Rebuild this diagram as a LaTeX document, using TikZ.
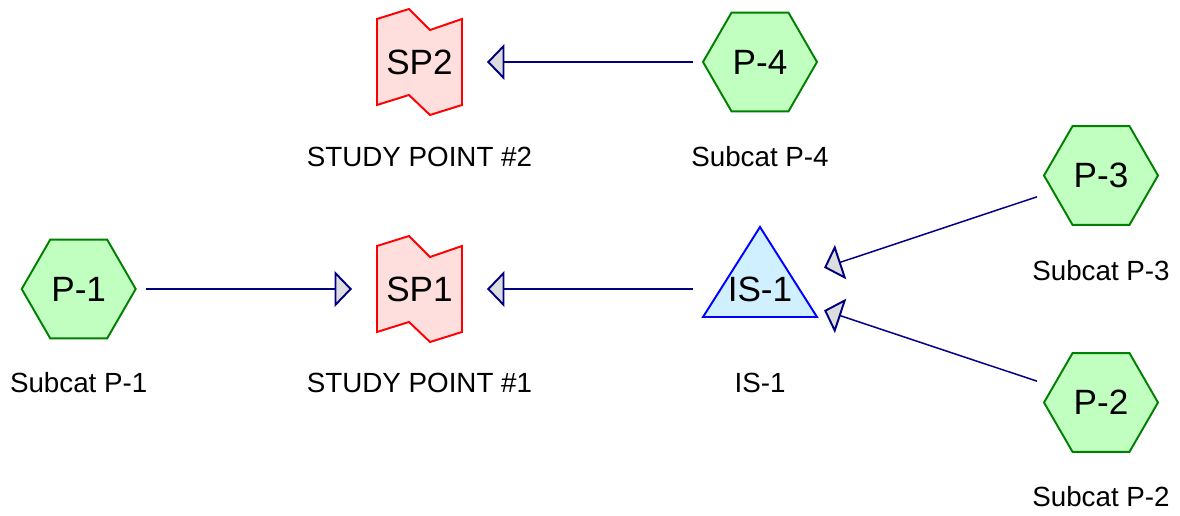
\documentclass[tikz,border=0pt]{standalone}
\usepackage{fontspec}
\setmainfont{Liberation Sans}
\usetikzlibrary{shapes.geometric,arrows.meta}
\definecolor{subfill}{RGB}{192,255,192}
\definecolor{subline}{RGB}{0,128,0}
\definecolor{spfill}{RGB}{255,222,222}
\definecolor{isfill}{RGB}{208,240,255}
\definecolor{linknavy}{RGB}{0,0,128}
\definecolor{tipfill}{RGB}{221,221,221}
\tikzset{
  subcat/.style={regular polygon,regular polygon sides=6,minimum size=2.28cm,inner sep=0pt,
    draw=subline,fill=subfill,line width=1.1pt,font=\fontsize{20}{24}\selectfont},
  spbox/.style={draw=red,fill=spfill,line width=1.1pt},
  isbox/.style={draw=blue,fill=isfill,line width=1.1pt},
  tag/.style={inner sep=0pt,font=\fontsize{20}{24}\selectfont},
  caption/.style={anchor=base,inner sep=0pt,font=\fontsize{15.8}{19}\selectfont},
  flow/.style={draw=linknavy,line width=.85pt,
    -{Triangle[length=.35cm,width=.72cm,line width=1.1pt,fill=tipfill]},
    shorten <=1.35cm,shorten >=1.35cm}
}
\begin{document}
\begin{tikzpicture}[x=.02cm,y=-.02cm]
    \useasboundingbox (0,0) rectangle (1180,516);
    % study points and junction
    \foreach \y in {62,289}
        \filldraw [spbox,shift={(419.5,\y)}] (-42.5,-43) -- (-10.5,-53) -- (10.5,-32) -- (42.5,-43) -- (42.5,43) -- (10.5,53) -- (-10.5,33) -- (-42.5,43) -- cycle;
    \filldraw [isbox,shift={(760,289)}] (0,-62) -- (57,28) -- (-57,28) -- cycle;
    \node [tag] (sp2) at (419.5,62) {SP2};
    \node [tag] (sp1) at (419.5,289) {SP1};
    \node [tag] (is1) at (760,289) {IS-1};
    % subcatchments
    \node [subcat] (p4) at (760,62) {P-4};
    \node [subcat] (p1) at (78.7,289) {P-1};
    \node [subcat] (p3) at (1101,175.5) {P-3};
    \node [subcat] (p2) at (1101,402.5) {P-2};
    % captions
    \node [caption] (sp2cap) at (419.5,167) {STUDY POINT \#2};
    \node [caption] (p4cap) at (760,167) {Subcat P-4};
    \node [caption] (p3cap) at (1101,281) {Subcat P-3};
    \node [caption] (p1cap) at (78.7,393) {Subcat P-1};
    \node [caption] (sp1cap) at (419.5,393) {STUDY POINT \#1};
    \node [caption] (is1cap) at (760,393) {IS-1};
    \node [caption] (p2cap) at (1101,507) {Subcat P-2};
    % links
    \draw [flow] (p4.center) -- (sp2.center);
    \draw [flow] (p1.center) -- (sp1.center);
    \draw [flow] (is1.center) -- (sp1.center);
    \draw [flow] (p3.center) -- (is1.center);
    \draw [flow] (p2.center) -- (is1.center);
\end{tikzpicture}
\end{document}
